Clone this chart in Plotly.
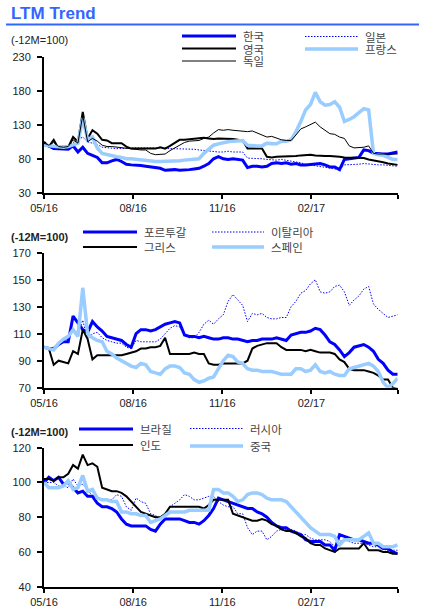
import pandas as pd
import plotly.graph_objects as go

# ---------------- data (5-day samples, -12M = 100) ----------------
dates = pd.date_range("2016-05-01", periods=74, freq="5D")

tick_vals = ["2016-05-01", "2016-08-01", "2016-11-01", "2017-02-01", "2017-05-01"]
tick_text = ["05/16", "08/16", "11/16", "02/17", ""]

# Panel 1
korea = [100,99,95,95,94,94,99,90,97,88, 85,82,74,74,77,79,76,72,71,71,
         70,69,68,66,66,63,64,64,63,63, 64,65,66,69,73,
         80,83,80,79,80, 79,78,67,69,69, 68,69,73,74,73, 74,72,73,71,71,
         72,72,73,71,68, 68,64,79,80,81, 82,93,92,88,87, 87,87,89,90]
uk = [105,98,108,95,95,97,112,105,149,110, 122,117,108,107,103,103,103,98,95,95,
      95,95,95,95,97,95,99,103,108,108, 109,110,110,111,110,
      109,110,110,109,109, 108,107,95,95,96, 95,83,82,83,83, 83,83,84,85,86,
      86,85,84,84,84, 84,83,82,82,82, 82,81,79,78,77, 75,73,72,71]
germany = [103,100,104,98,97,98,108,103,144,105, 110,106,100,98,98,97,97,95,95,94,
           93,93,88,86,86,87,92,96,100,104, 106,106,107,110,112,
           118,123,122,123,122, 121,120,120,121,118, 114,112,113,110,108, 107,107,115,124,127,
           130,134,127,122,117, 116,112,110,99,96, 96,97,99,88,87, 87,86,86,87]
japan = [100,99,99,98,99,100,104,108,112,105, 103,101,97,96,96,95,95,96,96,96,
         96,97,96,96,96,96,95,95,95,94, 94,94,93,92,91,
         91,90,90,91,90, 90,90,81,81,80, 80,79,78,78,79, 78,77,76,74,72,
         71,69,68,68,67, 65,64,71,71,72, 72,73,72,71,71, 71,70,70,69]
france = [100,99,98,98,97,98,101,103,140,108, 112,96,88,86,84,83,82,80,80,79,
          78,77,77,76,76,76,77,77,77,78, 79,80,80,88,94,
          100,102,104,105,106, 107,107,100,99,99, 99,103,102,102,106, 106,108,120,135,152,
          160,178,164,159,160, 164,156,135,138,142, 148,154,152,88,86, 85,82,79,79]

# Panel 2
portugal = [100,99,99,102,104,104,123,118,113,111, 119,115,112,108,107,106,105,102,100,110,
            113,113,112,113,115,117,118,119,118,109, 108,108,107,108,107,
            106,106,107,107,106, 106,105,104,105,105, 106,106,106,107,106, 105,109,110,111,111,
            112,114,113,109,104, 102,98,93,96,100, 101,102,100,97,91, 88,83,80,80]
greece = [100,99,87,90,89,88,97,95,113,106, 91,94,94,94,94,94,94,95,96,97,
          99,99,100,100,101,107,95,95,95,95, 95,96,95,95,88,
          87,87,88,88,88, 88,88,90,99,101, 102,103,103,103,100, 98,98,98,98,97,
          98,97,96,96,96, 95,91,89,84,83, 83,83,82,81,79, 76,76,70,69]
italy = [100,98,98,102,105,106,114,110,120,106, 110,111,107,105,104,103,103,100,99,105,
         104,104,104,104,106,110,114,116,115,109, 107,107,111,117,120,
         117,121,124,134,139, 135,131,119,125,124, 125,122,121,121,122, 122,130,134,140,142,
         147,150,141,140,141, 145,146,141,131,135, 138,143,145,132,128, 125,122,123,124]
spain = [100,99,98,103,106,108,113,108,144,110, 107,105,104,97,95,92,90,88,86,85,
         88,87,82,81,80,84,86,86,85,81, 80,76,74,75,77,
         78,84,90,94,93, 89,88,84,83,83, 82,82,82,81,80, 80,80,84,84,82,
         83,87,82,81,82, 80,79,79,84,85, 86,87,88,86,82, 74,70,73,77]

# Panel 3
brazil = [100,103,101,103,99,100,97,94,95,92, 92,88,86,86,85,83,79,76,75,75,
          75,75,73,72,76,79,79,79,79,78, 77,77,76,78,81,
          85,91,90,89,88, 87,86,85,85,83, 82,80,77,75,74, 74,72,71,70,67,
          66,66,66,64,64, 61,70,69,68,67, 67,66,65,65,64, 62,62,60,59]
india = [102,102,101,103,103,105,110,108,116,110, 111,109,97,96,95,95,94,92,89,86,
         83,82,81,80,80,82,86,86,86,86, 86,86,86,85,87,
         90,90,90,90,82, 81,80,79,78,78, 79,78,76,75,73, 72,72,71,69,68,
         65,64,64,62,61, 60,62,62,62,62, 62,65,61,61,61, 60,60,59,59]
russia = [100,100,100,98,98,97,102,98,99,96, 92,92,90,90,90,93,92,86,84,91,
          89,88,82,81,79,81,86,88,90,93, 92,90,90,91,92,
          92,89,87,86,86, 82,82,74,70,72, 72,67,69,72,73, 73,73,72,70,70,
          68,67,67,67,66, 63,66,67,66,65, 65,65,64,63,63, 60,61,61,61]
china = [100,97,97,97,98,101,96,97,104,95, 96,91,90,90,89,89,83,83,82,82,
         81,81,77,78,79,81,83,83,83,83, 84,84,84,84,84,
         96,96,94,94,92, 89,90,93,94,94, 93,91,90,90,90, 89,86,83,80,77,
         74,72,70,70,70, 69,64,67,67,67, 67,69,71,65,65, 63,63,63,64]

# ---------------- styles ----------------
W, H = 422, 614
BLUE = "#0000FF"
LIGHT = "#99CCFF"
BLACK = "#000000"
STY = {
    "blue": dict(color=BLUE, width=3),
    "black": dict(color=BLACK, width=2),
    "thin": dict(color=BLACK, width=1),
    "dot": dict(color=BLUE, width=1, dash="1.5px,1.5px"),
    "light": dict(color=LIGHT, width=3.5),
}
FONT = "Arial, 'Liberation Sans', sans-serif"
KFONT = "'Noto Sans CJK KR', 'Liberation Sans', sans-serif"

def px_x(p):
    return p / W

def px_y(p):
    return 1 - p / H

panels = [
    ([("한국", korea, "blue"), ("일본", japan, "dot"), ("영국", uk, "black"),
      ("프랑스", france, "light"), ("독일", germany, "thin")], [30, 230], 50, 57, 192.7),
    ([("포르투갈", portugal, "blue"), ("이탈리아", italy, "dot"), ("그리스", greece, "black"),
      ("스페인", spain, "light")], [70, 170], 20, 252.7, 387.7),
    ([("브라질", brazil, "blue"), ("러시아", russia, "dot"), ("인도", india, "black"),
      ("중국", china, "light")], [40, 120], 20, 447.7, 586.7),
]

fig = go.Figure()
layout = {}
for i, (series, yr, dt, top, bot) in enumerate(panels, start=1):
    xa = "x" if i == 1 else f"x{i}"
    ya = "y" if i == 1 else f"y{i}"
    for name, vals, st in series:
        fig.add_trace(go.Scatter(x=dates, y=vals, mode="lines", name=name,
                                 line=STY[st], xaxis=xa, yaxis=ya, showlegend=False))
    xkey = "xaxis" if i == 1 else f"xaxis{i}"
    ykey = "yaxis" if i == 1 else f"yaxis{i}"
    layout[xkey] = dict(domain=[px_x(44), px_x(397.7)], anchor=ya, type="date",
                        range=["2016-05-01", "2017-05-01"], automargin=False,
                        tickmode="array", tickvals=tick_vals, ticktext=tick_text,
                        showline=True, linecolor=BLACK, linewidth=2,
                        ticks="outside", ticklen=4, tickwidth=1.5, tickcolor=BLACK,
                        showgrid=False, zeroline=False,
                        tickfont=dict(family=FONT, size=11, color="#222"))
    layout[ykey] = dict(domain=[px_y(bot), px_y(top)], anchor=xa, range=yr, dtick=dt,
                        tick0=yr[0], automargin=False,
                        showline=True, linecolor=BLACK, linewidth=2,
                        ticks="outside", ticklen=5, tickwidth=1.5, tickcolor=BLACK,
                        showgrid=False, zeroline=False,
                        ticklabelstandoff=4,
                        tickfont=dict(family=FONT, size=11, color="#222"))

# ---------------- custom legends ----------------
legend_items = [
    ("한국", "blue", 182, 236, 36, 241), ("영국", "black", 182, 236, 48.5, 241),
    ("독일", "thin", 182, 236, 61, 241),
    ("일본", "dot", 305, 358, 36.5, 363), ("프랑스", "light", 305, 358, 49, 363),
    ("포르투갈", "blue", 83, 137, 232, 142), ("그리스", "black", 83, 137, 247, 142),
    ("이탈리아", "dot", 212, 264, 232, 269), ("스페인", "light", 212, 264, 247, 269),
    ("브라질", "blue", 79, 133, 429, 138), ("인도", "black", 79, 133, 445, 138),
    ("러시아", "dot", 190, 243, 428.5, 248), ("중국", "light", 190, 243, 446, 248),
]
shapes = []
annotations = []
for label, st, x0, x1, y, tx in legend_items:
    shapes.append(dict(type="line", xref="paper", yref="paper",
                       x0=px_x(x0), x1=px_x(x1), y0=px_y(y), y1=px_y(y), line=STY[st]))
    annotations.append(dict(text=label, xref="paper", yref="paper", x=px_x(tx), y=px_y(y),
                            xanchor="left", yanchor="middle", showarrow=False,
                            font=dict(family=KFONT, size=11.5, color="#444")))

annotations.append(dict(text="<b>LTM Trend</b>", xref="paper", yref="paper",
                        x=px_x(9), y=px_y(13), xanchor="left", yanchor="middle",
                        showarrow=False, font=dict(family=FONT, size=17, color="#3366FF")))
shapes.append(dict(type="line", xref="paper", yref="paper", x0=px_x(6), x1=px_x(419),
                   y0=px_y(24.5), y1=px_y(24.5), line=dict(color="#3366FF", width=2)))

for y, bold in [(40, False), (236.5, True), (432, True)]:
    t = "(-12M=100)"
    annotations.append(dict(text=f"<b>{t}</b>" if bold else t, xref="paper", yref="paper",
                            x=px_x(9), y=px_y(y), xanchor="left", yanchor="middle",
                            showarrow=False, font=dict(family=FONT, size=11, color="#222")))

fig.update_layout(width=W, height=H, margin=dict(l=0, r=0, t=0, b=0, autoexpand=False),
                  paper_bgcolor="white", plot_bgcolor="white",
                  showlegend=False, shapes=shapes, annotations=annotations, **layout)

fig.write_html("out.html", config={"displayModeBar": False},
               post_script="document.body.style.margin='0';document.body.style.overflow='hidden';")
